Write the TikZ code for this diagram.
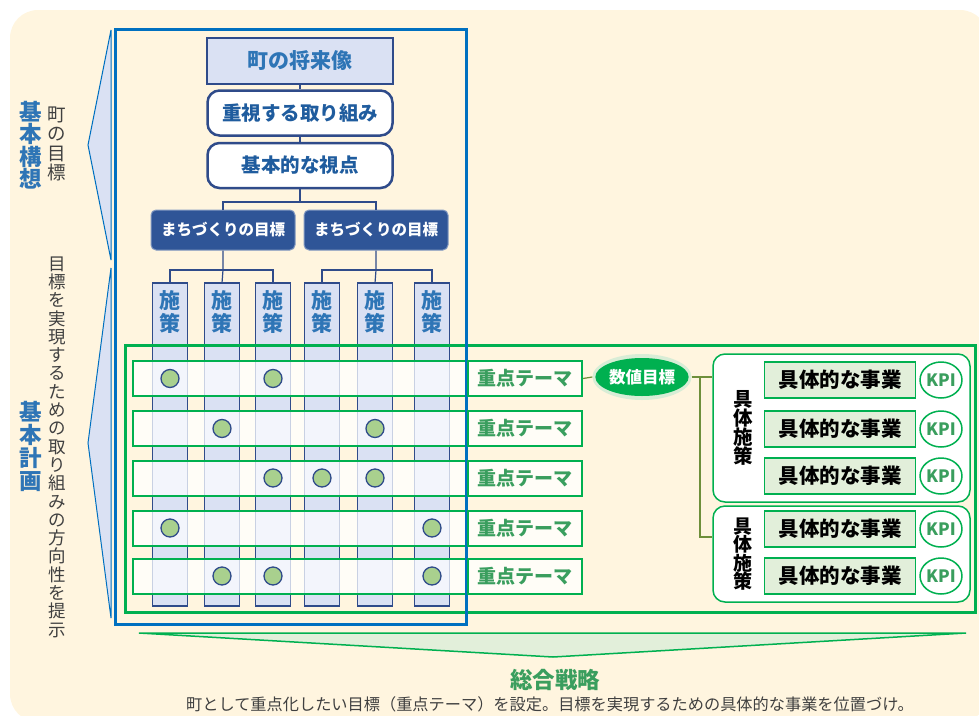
\documentclass[tikz,border=0pt]{standalone}
\usepackage{fontspec}
\newfontfamily\jp{Noto Sans CJK JP}
\usetikzlibrary{shapes.geometric}
\definecolor{bg}{HTML}{FFF5DF}
\definecolor{fblue}{HTML}{0070C0}
\definecolor{navy}{HTML}{2F4B8A}
\definecolor{mnavy}{HTML}{2F5597}
\definecolor{lblue}{HTML}{DAE1F3}
\definecolor{vlblue}{HTML}{F3F5FC}
\definecolor{gblue}{HTML}{C9D1E3}
\definecolor{grn}{HTML}{00B050}
\definecolor{lgrn}{HTML}{E2EFDA}
\definecolor{halo}{HTML}{D8EDD6}
\definecolor{dotg}{HTML}{A9D08E}
\definecolor{olive}{HTML}{6E8F3A}
\definecolor{tblue}{HTML}{2E75B6}
\definecolor{tdblue}{HTML}{1F5C9E}
\definecolor{tgrn}{HTML}{3A9E5E}
\definecolor{rowf}{HTML}{FFFDF7}
\definecolor{tgray}{HTML}{404040}
\begin{document}
\begin{tikzpicture}[x=1pt,y=-1pt,
  topbox/.style={draw=navy, line width=2.5pt, fill=lblue, minimum width=186pt, minimum height=46pt, inner sep=0pt, text=tblue, font=\jp\bfseries\fontsize{21}{24}\selectfont},
  rbox/.style={draw=navy, line width=2.5pt, fill=white, rounded corners=12pt, minimum width=185pt, minimum height=45pt, inner sep=0pt, text=tdblue, font=\jp\bfseries\fontsize{19.5}{22}\selectfont},
  mbox/.style={draw=mnavy!60, line width=1pt, fill=mnavy, rounded corners=5pt, minimum width=144pt, minimum height=40pt, inner sep=0pt, text=white, font=\jp\bfseries\fontsize{15.5}{18}\selectfont},
  col/.style={draw=navy, line width=1.5pt, fill=lblue, minimum width=35pt, minimum height=323pt, inner sep=0pt, outer sep=0pt},
  shead/.style={align=center, inner sep=0pt, text=tblue, font=\jp\bfseries\fontsize{21}{23}\selectfont},
  conn/.style={draw=navy, line width=1.2pt},
  rowbox/.style={fill=rowf, minimum width=333pt, minimum height=35pt, inner sep=0pt, outer sep=0pt},
  theme/.style={draw=grn, line width=2pt, fill=rowf, minimum width=114pt, minimum height=35pt, inner sep=0pt, text=tgrn, font=\jp\bfseries\fontsize{19}{22}\selectfont},
  dot/.style={circle, draw=navy, line width=1.3pt, fill=dotg, minimum size=18pt, inner sep=0pt},
  jbox/.style={draw=grn, line width=1.5pt, fill=lgrn, minimum width=151pt, minimum height=36pt, inner sep=0pt, text=black, font=\jp\bfseries\fontsize{20.5}{23}\selectfont},
  kpi/.style={ellipse, draw=grn, line width=1.5pt, fill=white, minimum width=40pt, minimum height=36pt, inner sep=0pt, text=tgrn, font=\jp\bfseries\fontsize{17}{19}\selectfont},
  grbox/.style={draw=grn, line width=1.5pt, fill=white, rounded corners=12pt, inner sep=0pt},
  vtext/.style={align=center, inner sep=0pt},
  olv/.style={draw=olive, line width=1.2pt}
]
\useasboundingbox (0,0) rectangle (979,715);
% background
\fill[bg, rounded corners=28pt] (10,10) rectangle (988,722);
% brackets
\draw[fblue, fill=lblue, line width=1pt, line join=miter] (111,30) -- (88,145) -- (111,260) -- cycle;
\draw[fblue, fill=lblue, line width=1pt, line join=miter] (111,268) -- (88,443) -- (111,618) -- cycle;
% left texts
\node[vtext, text=tblue, font=\jp\bfseries\fontsize{22.5}{22.5}\selectfont] (kk) at (31,145) {基\\本\\構\\想};
\node[vtext, text=tgray, font=\jp\fontsize{18.5}{19.5}\selectfont] (mm) at (57,144) {町\\の\\目\\標};
\node[vtext, text=tgray, font=\jp\fontsize{17.5}{18.3}\selectfont] (hh) at (57,447) {目\\標\\を\\実\\現\\す\\る\\た\\め\\の\\取\\り\\組\\み\\の\\方\\向\\性\\を\\提\\示};
\node[vtext, text=tblue, font=\jp\bfseries\fontsize{22.5}{23}\selectfont] (kp) at (31,446) {基\\本\\計\\画};
% top boxes
\node[topbox] (fut) at (300,61) {町の将来像};
\node[rbox] (jus) at (300,113) {重視する取り組み};
\node[rbox] (shi) at (300,165.5) {基本的な視点};
\draw[conn] (fut.south) -- (jus.north);
\draw[conn] (jus.south) -- (shi.north);
\node[mbox] (m1) at (223,230) {まちづくりの目標};
\node[mbox] (m2) at (376,230) {まちづくりの目標};
\coordinate (j1) at (300,202);
\draw[conn] (shi.south) -- (j1);
\draw[conn] (m1.north) |- (j1) -| (m2.north);
% columns
\foreach \c/\x in {1/170,2/222,3/273,4/322,5/375,6/432} {
  \node[col] (s\c) at (\x,444.5) {};
  \node[shead] (h\c) at ([yshift=-29pt]s\c.north) {施\\策};
}
\coordinate (j2) at (223,270);
\coordinate (j3) at (376,270);
\draw[conn] (m1.south) -- (j2) -- (s2.north);
\draw[conn] (s1.north) |- (j2) -| (s3.north);
\draw[conn] (m2.south) -- (j3) -- (s5.north);
\draw[conn] (s4.north) |- (j3) -| (s6.north);
% big green frame
\draw[grn, line width=3pt] (125,345) rectangle (975,612);
% rows
\foreach \r/\y in {1/378.5,2/428.5,3/478,4/528,5/576} {
  \node[rowbox] (r\r) at (299.5,\y) {};
  \foreach \c in {1,...,6} {
    \fill[vlblue] (s\c.west |- r\r.north) rectangle (s\c.east |- r\r.south);
    \draw[gblue, line width=1.5pt] (s\c.west |- r\r.north) -- (s\c.west |- r\r.south)
       (s\c.east |- r\r.north) -- (s\c.east |- r\r.south);
  }
  \draw[grn, line width=2pt] (r\r.north west) rectangle (r\r.south east);
}
\foreach \r/\c in {1/1,1/3,2/2,2/5,3/3,3/4,3/5,4/1,4/6,5/2,5/3,5/6}
  \node[dot] (d\r\c) at (s\c |- r\r) {};
% blue frame
\draw[fblue, line width=3pt] (115,29) rectangle (466,624);
% themes
\foreach \r/\y in {1/378.5,2/428.5,3/478,4/528,5/576}
  \node[theme] (t\r) at (525,\y) {重点テーマ};
% numeric target
\node[ellipse, fill=halo, minimum width=99pt, minimum height=46pt, inner sep=0pt] (numh) at (642,377) {};
\node[ellipse, fill=grn, minimum width=90pt, minimum height=38pt, inner sep=0pt, text=white, font=\jp\bfseries\fontsize{16.5}{18}\selectfont] (num) at (642,377) {数値目標};
\draw[olv] (t1.east) -- (numh.west);
% right groups
\node[grbox, minimum width=257pt, minimum height=148pt] (g1) at (841.5,428) {};
\node[grbox, minimum width=257pt, minimum height=96pt] (g2) at (841.5,554) {};
\coordinate (jb) at (700,377);
\coordinate (jc) at (700,537);
\draw[olv] (numh.east) -- (jb) -- (jb -| g1.west);
\draw[olv] (jb) -- (jc) -- (jc -| g2.west);
\node[vtext, text=black, font=\jp\bfseries\fontsize{19.5}{19}\selectfont] (gs1) at (743,428) {具\\体\\施\\策};
\node[vtext, text=black, font=\jp\bfseries\fontsize{19}{18.5}\selectfont] (gs2) at (743,554) {具\\体\\施\\策};
\foreach \i/\y in {1/380,2/429,3/476,4/529,5/576} {
  \node[jbox] (b\i) at (840,\y) {具体的な事業};
  \node[kpi] (k\i) at (941,\y) {KPI};
}
% bottom
\draw[grn, fill=lgrn, line width=1.5pt] (139,633) -- (966,633) -- (553,657) -- cycle;
\node[text=tgrn, font=\jp\bfseries\fontsize{22.5}{25}\selectfont] (sg) at (555,680) {総合戦略};
\node[text=tgray, font=\jp\fontsize{16.2}{18}\selectfont] (desc) at (550,704) {町として重点化したい目標（重点テーマ）を設定。目標を実現するための具体的な事業を位置づけ。};
\end{tikzpicture}
\end{document}
